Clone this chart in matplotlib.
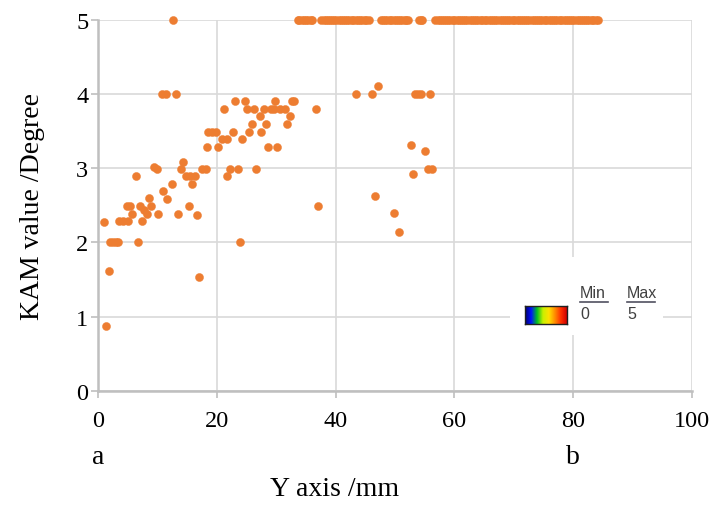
import numpy as np
import matplotlib
matplotlib.use("Agg")
import matplotlib.pyplot as plt
from matplotlib.colors import LinearSegmentedColormap
from matplotlib.lines import Line2D
from matplotlib.transforms import blended_transform_factory

# KAM measurements along the Y axis (mm, degree)
low_x = [1.3, 1.8, 17.0, 1.0, 2.0, 2.5, 3.0, 3.4, 6.7, 23.9,
         3.5, 4.2, 5.0, 5.8, 4.9, 5.4, 7.0, 7.4, 7.8, 8.3, 8.6, 9.0,
         10.1, 11.0, 11.7, 13.5, 15.4, 16.7]
low_y = [0.87, 1.62, 1.54, 2.27, 2.0, 2.0, 2.0, 2.0, 2.0, 2.0,
         2.29, 2.29, 2.29, 2.39, 2.49, 2.49, 2.49, 2.29, 2.44, 2.39, 2.6, 2.49,
         2.39, 2.69, 2.59, 2.39, 2.49, 2.37]

mid_x = [6.4, 9.5, 9.9, 14.3, 13.9, 17.5, 18.1, 22.3, 23.5, 26.6,
         21.8, 14.8, 15.5, 16.3, 15.9, 12.4]
mid_y = [2.89, 3.02, 2.99, 3.09, 2.99, 2.99, 2.99, 2.99, 2.99, 2.99,
         2.89, 2.89, 2.89, 2.89, 2.79, 2.79]

up_x = [23.1, 24.7, 29.8, 32.6, 33.0,
        21.2, 25.1, 26.3, 27.9, 29.1, 29.7, 30.7, 31.4, 36.7,
        32.3, 27.2,
        25.9, 28.3, 31.9,
        18.5, 19.2, 19.9, 22.7, 25.5, 27.5,
        20.9, 21.7, 24.3,
        18.3, 20.2, 28.7, 30.2,
        37.1,
        10.7, 11.5, 13.1]
up_y = [3.9, 3.9, 3.9, 3.9, 3.9,
        3.8, 3.8, 3.8, 3.8, 3.8, 3.8, 3.8, 3.8, 3.8,
        3.7, 3.7,
        3.6, 3.6, 3.6,
        3.49, 3.49, 3.49, 3.49, 3.49, 3.49,
        3.39, 3.39, 3.39,
        3.29, 3.29, 3.29, 3.29,
        2.49,
        4.0, 4.0, 4.0]

right_x = [43.4, 46.2, 47.1, 53.3, 53.9, 54.4, 55.9, 52.7, 55.1, 55.5, 56.2,
           53.1, 46.7, 49.9, 50.7]
right_y = [4.0, 4.0, 4.11, 4.0, 4.0, 4.0, 4.0, 3.31, 3.23, 2.99, 2.99,
           2.92, 2.62, 2.40, 2.14]

# Saturated readings (KAM >= 5)
top_x = [12.7,
         33.6, 33.9, 34.3, 34.6, 35.0, 35.4, 35.8, 36.1,
         37.6, 38.0, 38.3, 38.7, 39.0, 39.4, 39.8, 40.1, 40.5, 40.9, 41.2, 41.6,
         42.0, 42.3, 42.7, 43.0, 43.4, 43.8, 44.1, 44.5, 44.9, 45.2, 45.6,
         47.6, 48.0, 48.3, 48.7, 49.1, 49.4, 49.8, 50.2, 50.5, 50.9, 51.2, 51.6,
         51.9, 52.2,
         54.0, 54.3, 54.6,
         56.8, 57.2, 57.5, 57.9, 58.2, 58.6, 59.0, 59.3, 59.7, 60.0, 60.4, 60.8,
         61.1, 61.5, 61.8, 62.2, 62.6, 62.9, 63.3, 63.6, 64.0, 64.4, 64.7, 65.1,
         65.4, 65.8, 66.2, 66.5, 66.9, 67.2, 67.6, 68.0, 68.3, 68.7, 69.0, 69.4,
         69.8, 70.1, 70.5, 70.8, 71.2, 71.6, 71.9, 72.3, 72.6, 73.0, 73.4, 73.7,
         74.1, 74.4, 74.8, 75.2, 75.5, 75.9, 76.2, 76.6, 77.0, 77.3, 77.7, 78.0,
         78.4, 78.8, 79.1, 79.5, 79.8, 80.2, 80.6, 80.9, 81.3, 81.6, 82.0, 82.4,
         82.7, 83.1, 83.4, 83.8, 84.1]
top_y = [5.0] * len(top_x)

x_ticks = [0, 20, 40, 60, 80, 100]
y_ticks = [0, 1, 2, 3, 4, 5]

xs = low_x + mid_x + up_x + right_x + top_x
ys = low_y + mid_y + up_y + right_y + top_y

serif = ["Liberation Serif", "DejaVu Serif"]
sans = ["Liberation Sans", "DejaVu Sans"]

fig = plt.figure(figsize=(7.16, 5.06), dpi=100)
W, H = 716, 506
ax = fig.add_axes([98 / W, (H - 392) / H, (692 - 98) / W, (392 - 20.7) / H])

ax.set_xlim(0, 100)
ax.set_ylim(0, 5)
ax.set_xticks(x_ticks)
ax.set_yticks(y_ticks)
ax.grid(True, color="#d9d9d9", linewidth=1.2, zorder=0)
ax.set_axisbelow(True)
for s in ["top", "right"]:
    ax.spines[s].set_visible(False)
for s in ["left", "bottom"]:
    ax.spines[s].set_color("#bfbfbf")
    ax.spines[s].set_linewidth(1.8)
ax.tick_params(axis="both", colors="#bfbfbf", length=5, width=1.2,
               labelcolor="black", labelsize=17.5)
ax.tick_params(axis="x", pad=9)
ax.tick_params(axis="y", pad=2)
for lab in ax.get_xticklabels() + ax.get_yticklabels():
    lab.set_fontfamily(serif)

ax.scatter(xs, ys, s=34, color="#ed7d31", edgecolors="#ed7d31", linewidths=0.3,
           zorder=3, clip_on=False)

ax.set_ylabel("KAM value /Degree", fontsize=20, family=serif, labelpad=22)
fig.text(335 / W, 1 - 490 / H, "Y axis /mm", fontsize=20, family=serif,
         ha="center", va="center")

trans = blended_transform_factory(ax.transData, fig.transFigure)
ax.text(0, 1 - 458 / H, "a", transform=trans, fontsize=20, family=serif,
        ha="center", va="center")
ax.text(80, 1 - 458 / H, "b", transform=trans, fontsize=20, family=serif,
        ha="center", va="center")

# Colour scale key
key_bg = fig.add_axes([510 / W, 1 - 336 / H, (663 - 510) / W, (336 - 258) / H])
key_bg.set_facecolor("white")
key_bg.set_xticks([])
key_bg.set_yticks([])
for s in key_bg.spines.values():
    s.set_visible(False)

cmap = LinearSegmentedColormap.from_list(
    "kam", ["#00006e", "#0010ff", "#00c020", "#c8f000", "#ffe000", "#ff8c00",
            "#ff3000", "#d00000"])
cax = fig.add_axes([525 / W, 1 - 325 / H, (567 - 525) / W, (325 - 307) / H])
cax.imshow(np.linspace(0, 1, 200)[None, :], aspect="auto", cmap=cmap)
cax.set_xticks([])
cax.set_yticks([])
for s in cax.spines.values():
    s.set_color("#202020")
    s.set_linewidth(1.0)

txt_col = "#404040"
for x0, head, val in [(580, "Min", "0"), (627, "Max", "5")]:
    fig.text(x0 / W, 1 - 294 / H, head, fontsize=11.5, family=sans, color=txt_col,
             ha="left", va="center")
    fig.text(x0 / W, 1 - 315 / H, val, fontsize=11.5, family=sans, color=txt_col,
             ha="left", va="center")
    fig.add_artist(Line2D([x0 / W, (x0 + 28) / W], [1 - 303 / H, 1 - 303 / H],
                          color="#505060", linewidth=1.2))

fig.savefig("out.png", dpi=100, facecolor="white")
